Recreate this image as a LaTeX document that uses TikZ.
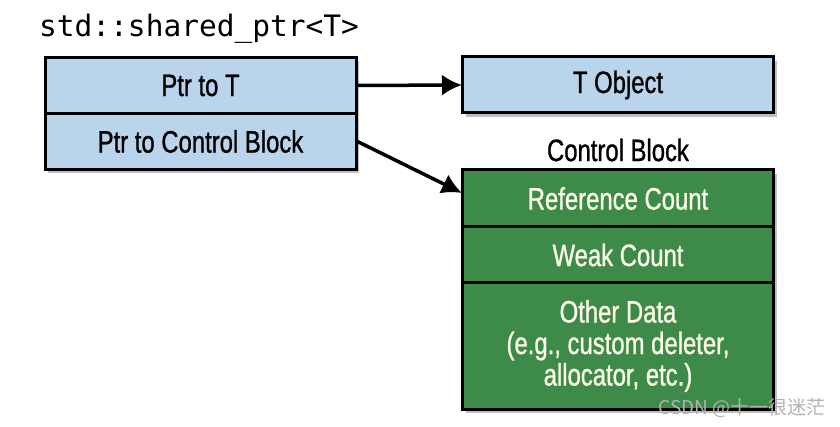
\documentclass[tikz,border=0pt]{standalone}
\usepackage{fontspec}
\usetikzlibrary{arrows.meta,calc,shadows}
\newfontfamily\cond[FakeStretch=0.77,FakeBold=0.9]{Liberation Sans}
\newfontfamily\monof{DejaVu Sans Mono}
\newfontfamily\cjk{Noto Sans CJK SC}
\definecolor{lblue}{RGB}{186,212,235}
\definecolor{dgreen}{RGB}{62,139,73}
\definecolor{cream}{RGB}{255,253,235}
\tikzset{
  cellfont/.style={font=\cond\fontsize{31}{34}\selectfont},
  cell/.style={draw=black, line width=3pt, minimum width=311pt, inner sep=0pt,
    cellfont, align=center,
    drop shadow={shadow xshift=3pt, shadow yshift=-4pt, fill=black, opacity=0.25}},
  bluecell/.style={cell, fill=lblue, text=black},
  greencell/.style={cell, fill=dgreen, text=cream},
  arr/.style={line width=3.5pt, -{Latex[length=20pt,width=21pt]}, shorten >=-1pt}
}
\begin{document}
\begin{tikzpicture}[x=1pt,y=-1pt]
\useasboundingbox (0,0) rectangle (840,427);
\node[anchor=west, font=\monof\fontsize{29.5}{32}\selectfont, inner sep=0pt] (title) at (39,29) {std::shared\_ptr<T>};
\node[bluecell, minimum height=56pt] (ptrT) at (200.5,85.5) {Ptr to T};
\node[bluecell, minimum height=56pt] (ptrCB) at (200.5,141.5) {Ptr to Control Block};
\node[bluecell, minimum height=56pt] (tobj) at (618,85) {T Object};
\node[cellfont, inner sep=0pt] (cblabel) at (618,150) {Control Block};
\node[greencell, minimum height=57pt] (ref) at (618,198.5) {Reference Count};
\node[greencell, minimum height=56pt] (weak) at (618,255) {Weak Count};
\node[greencell, minimum height=126pt] (other) at (618,346) {Other Data\\[-2.5pt](e.g., custom deleter,\\[-2.5pt]allocator, etc.)};
\draw[arr] (ptrT.east) -- (tobj.west);
\draw[arr] (ptrCB.east) -- ($(ref.west)+(0,-6)$);
\node[anchor=east, font=\cjk\fontsize{19}{21}\selectfont, text=black!30, inner sep=0pt] (wm) at (826,408) {CSDN @十一很迷茫};
\end{tikzpicture}
\end{document}
